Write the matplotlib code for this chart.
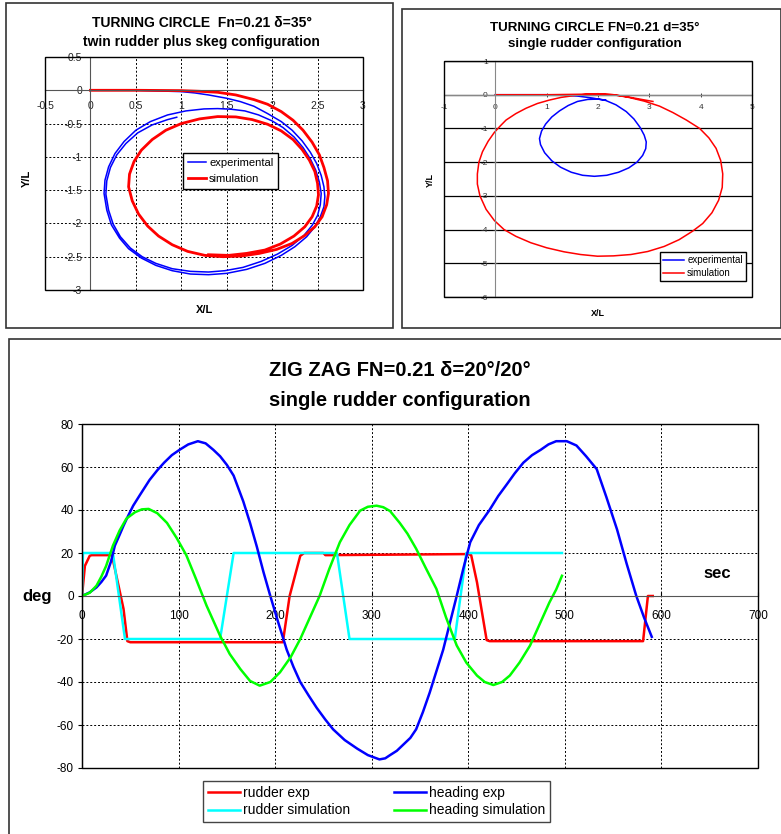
import numpy as np
import matplotlib
matplotlib.use('Agg')
import matplotlib.pyplot as plt
from matplotlib.patches import Rectangle
from matplotlib.ticker import FormatStrFormatter

plt.rcParams['font.family'] = ['Liberation Sans', 'DejaVu Sans']
plt.rcParams['axes.unicode_minus'] = False

W, H = 781, 834

# turning circle, twin rudder plus skeg  (X/L , Y/L)
# approach, first (outer) loop, second (inner) loop
tw_exp_x = [0, 0.5, 1.0, 1.15, 1.3, 1.5, 1.65, 1.8, 1.95, 2.1, 2.22, 2.33, 2.42, 2.49, 2.54,
            2.57, 2.58, 2.57, 2.53, 2.47, 2.38, 2.25, 2.1, 1.92, 1.72, 1.5, 1.3, 1.1, 0.9, 0.72,
            0.56, 0.42, 0.32, 0.23, 0.18, 0.15, 0.16, 0.2, 0.27, 0.37, 0.5, 0.66, 0.85, 1.05,
            1.25, 1.4,
            1.55, 1.7, 1.85, 2.0, 2.12, 2.24, 2.34, 2.42, 2.48, 2.52, 2.54, 2.53, 2.5, 2.44,
            2.35, 2.22, 2.06, 1.88, 1.68, 1.48, 1.3, 1.1, 0.9, 0.72, 0.57, 0.44, 0.33, 0.25,
            0.2, 0.17, 0.18, 0.22, 0.29, 0.39, 0.52, 0.68, 0.85, 0.95]
tw_exp_y = [0, 0, -0.02, -0.04, -0.07, -0.12, -0.17, -0.24, -0.35, -0.47, -0.6, -0.76, -0.93,
            -1.1, -1.28, -1.45, -1.6, -1.75, -1.9, -2.05, -2.2, -2.35, -2.48, -2.6, -2.69,
            -2.75, -2.77, -2.76, -2.71, -2.63, -2.52, -2.38, -2.22, -2.02, -1.8, -1.55, -1.35,
            -1.15, -0.95, -0.77, -0.6, -0.47, -0.37, -0.31, -0.28, -0.275,
            -0.285, -0.31, -0.37, -0.46, -0.56, -0.7, -0.86, -1.03, -1.2, -1.38, -1.55, -1.72,
            -1.88, -2.03, -2.18, -2.33, -2.46, -2.57, -2.66, -2.71, -2.73, -2.72, -2.68, -2.6,
            -2.5, -2.37, -2.2, -2.01, -1.8, -1.56, -1.36, -1.16, -0.97, -0.8, -0.64, -0.52,
            -0.44, -0.405]
tw_sim_x = [0, 0.5, 1.0, 1.2, 1.4, 1.6, 1.8, 1.95, 2.1, 2.23, 2.34, 2.44, 2.52, 2.57, 2.61,
            2.62, 2.6, 2.55, 2.47, 2.36, 2.22, 2.05, 1.86, 1.66, 1.46, 1.26, 1.07, 0.9, 0.75,
            0.63, 0.53, 0.46, 0.42, 0.43, 0.48, 0.56, 0.68, 0.83, 1.0, 1.2, 1.4,
            1.6, 1.78, 1.95, 2.1, 2.23, 2.33, 2.41, 2.47, 2.5, 2.51, 2.49, 2.44, 2.36, 2.24,
            2.09, 1.92, 1.72, 1.52, 1.3]
tw_sim_y = [0, 0, -0.005, -0.015, -0.03, -0.07, -0.14, -0.21, -0.32, -0.45, -0.6, -0.78,
            -0.97, -1.16, -1.36, -1.55, -1.72, -1.9, -2.05, -2.18, -2.3, -2.39, -2.45, -2.49,
            -2.5, -2.48, -2.42, -2.32, -2.19, -2.04, -1.86, -1.66, -1.45, -1.26, -1.07, -0.9,
            -0.74, -0.6, -0.5, -0.43, -0.395,
            -0.4, -0.44, -0.51, -0.61, -0.74, -0.89, -1.05, -1.22, -1.4, -1.57, -1.74, -1.9,
            -2.05, -2.19, -2.31, -2.4, -2.45, -2.48, -2.47]

# turning circle, single rudder
sg_exp_x = [0, 0.5, 1.0, 1.3, 1.6, 1.9, 2.15, 2.35, 2.55, 2.7, 2.82, 2.9, 2.94, 2.93, 2.87,
            2.76, 2.6, 2.4, 2.17, 1.93, 1.7, 1.48, 1.27, 1.1, 0.96, 0.88, 0.86, 0.9, 0.98, 1.1,
            1.25, 1.42, 1.6, 1.8, 2.0, 2.15]
sg_exp_y = [0, 0, 0, -0.01, -0.04, -0.1, -0.17, -0.3, -0.5, -0.72, -0.97, -1.2, -1.4, -1.6,
            -1.8, -2.0, -2.17, -2.3, -2.39, -2.42, -2.39, -2.3, -2.15, -1.96, -1.72, -1.48,
            -1.3, -1.08, -0.87, -0.66, -0.48, -0.32, -0.2, -0.14, -0.13, -0.16]
sg_sim_x = [0, 1.0, 1.5, 2.0, 2.3, 2.6, 2.9, 3.2, 3.46, 3.72, 3.98, 4.16, 4.30, 4.39, 4.43,
            4.42, 4.35, 4.22, 4.04, 3.84, 3.58, 3.29, 2.97, 2.64, 2.3, 1.99, 1.66, 1.34, 1.0,
            0.69, 0.4, 0.17, -0.02, -0.18, -0.3, -0.35, -0.35, -0.32, -0.25, -0.14, -0.02, 0.1,
            0.21, 0.4, 0.6, 0.82, 1.05, 1.28, 1.51, 1.75, 2.0, 2.3, 2.6, 2.85, 3.07]
sg_sim_y = [0, 0, 0.01, 0.02, 0.0, -0.08, -0.19, -0.34, -0.53, -0.75, -1.0, -1.28, -1.59,
            -1.95, -2.35, -2.75, -3.13, -3.5, -3.82, -4.05, -4.3, -4.5, -4.65, -4.74, -4.78,
            -4.79, -4.74, -4.66, -4.54, -4.39, -4.2, -4.0, -3.73, -3.4, -3.0, -2.65, -2.35,
            -2.0, -1.69, -1.38, -1.12, -0.92, -0.75, -0.56, -0.4, -0.26, -0.16, -0.08, -0.03,
            0.01, 0.03, 0.0, -0.07, -0.14, -0.2]

# zig zag 20/20  (sec , deg)
t_rud_exp = [0, 3, 8, 10, 31, 43, 47, 50, 208, 215, 226, 230, 250, 252, 400, 403, 409, 419,
             422, 581, 586, 591]
rud_exp = [0, 14, 18.7, 19, 19, -6, -21, -21.5, -21.5, 0, 18.7, 20, 20, 19, 19.5, 19, 6.4,
           -20.5, -21, -21, 0, 0]
t_rud_sim = [0, 1, 32, 44.5, 143, 157, 264, 277, 386, 398, 497]
rud_sim = [0, 20, 20, -20, -20, 20, 20, -20, -20, 20, 20]
t_head_exp = [0, 8, 15, 20, 25, 30, 34, 39, 43, 48, 53, 60, 70, 78, 85, 93, 101, 110, 120, 128,
              136, 143, 150, 157, 162, 167, 174, 181, 188, 195, 203, 212, 219, 226, 235, 243,
              252, 260, 272, 285, 296, 308, 314, 319, 326, 333, 340, 346, 353, 360, 367, 374,
              381, 388, 395, 402, 411, 422, 431, 440, 448, 457, 466, 475, 483, 491, 502, 512,
              522, 533, 543, 554, 564, 574, 582, 590]
head_exp = [0, 1.7, 4, 6.5, 9.5, 16, 23.4, 28.5, 32.7, 37.5, 42, 47, 54, 58.5, 62, 65.5, 68,
            70.5, 72, 71, 68, 65, 61, 56, 50, 44, 34, 23, 11, 0, -12, -25, -33, -40, -46.5, -52,
            -57.5, -62, -67, -71, -74, -76, -75.5, -74, -72, -69, -66, -62, -54, -45, -35, -25,
            -12.5, 0, 13, 25, 33, 40, 46.5, 52, 57, 62, 65.5, 68, 70.5, 72, 72, 70, 65, 59, 46,
            31, 15, 0, -10, -19]
t_head_sim = [0, 8, 15, 20, 25, 32, 39, 46, 55, 62, 69, 78, 88, 98, 108, 118, 129, 136, 143,
              153, 164, 174, 184, 195, 205, 216, 226, 236, 246, 256, 267, 277, 288, 296, 305,
              312, 319, 329, 337, 346, 356, 367, 377, 388, 398, 409, 417, 426, 435, 443, 453,
              464, 474, 484, 491, 497]
head_sim = [0, 1.5, 4.8, 9, 14, 23.4, 30.5, 36, 39, 40.3, 40.5, 38.5, 34, 27, 19, 8, -4.5,
            -11.5, -18.5, -27, -34, -39.5, -41.7, -40, -35.5, -28.5, -20, -10, 0, 12.5, 25, 33,
            39.7, 41.5, 42, 41.3, 39.5, 34, 29, 22, 13, 3.3, -10, -23, -31, -37, -40, -41.4,
            -40, -37, -31, -23, -13, -3, 3, 9.4]

BLUE = '#0000ff'
RED = '#ff0000'
CYAN = '#00ffff'
GREEN = '#00ff00'


def px_axes(fig, x0, y0, x1, y1):
    # axes placed by pixel box of the reference
    return fig.add_axes([x0 / W, 1 - y1 / H, (x1 - x0) / W, (y1 - y0) / H])


def ftext(fig, x, y, s, **kw):
    fig.text(x / W, 1 - y / H, s, ha='center', va='center', **kw)


def cross_axes(ax, color='#555555'):
    # excel style: axes cross at 0, plot area gets its own frame
    ax.spines['bottom'].set_position(('data', 0))
    ax.spines['bottom'].set_color(color)
    ax.spines['top'].set_visible(False)
    ax.spines['right'].set_visible(False)
    ax.add_patch(Rectangle((0, 0), 1, 1, transform=ax.transAxes, fill=False,
                           ec='black', lw=1.0, clip_on=False, zorder=5))


fig = plt.figure(figsize=(W / 100, H / 100), dpi=100)

# panel frames
for (x0, y0, x1, y1) in [(6, 3, 393, 328), (402, 9, 781, 328), (9, 339, 790, 840)]:
    fig.patches.append(Rectangle((x0 / W, 1 - y1 / H), (x1 - x0) / W, (y1 - y0) / H,
                                 transform=fig.transFigure, fill=False, ec='#333333', lw=1.2))

# ---- top left
ax1 = px_axes(fig, 45, 57, 363, 290)
ax1.plot(tw_exp_x, tw_exp_y, color=BLUE, lw=1.1, label='experimental')
ax1.plot(tw_sim_x, tw_sim_y, color=RED, lw=2.0, label='simulation')
ax1.set_xlim(-0.5, 3)
ax1.set_ylim(-3, 0.5)
ax1.set_xticks(np.arange(-0.5, 3.01, 0.5))
ax1.set_yticks(np.arange(-3, 0.51, 0.5))
ax1.xaxis.set_major_formatter(FormatStrFormatter('%g'))
ax1.yaxis.set_major_formatter(FormatStrFormatter('%g'))
ax1.set_axisbelow(True)
ax1.grid(True, ls=(0, (2, 2)), color='black', lw=0.7)
cross_axes(ax1)
ax1.spines['left'].set_position(('data', 0))
ax1.spines['left'].set_color('#555555')
ax1.tick_params(length=0, labelsize=7.5, colors='#222222')
ax1.tick_params(axis='x', pad=8)
ax1.tick_params(axis='y', pad=6)
ax1.legend(loc='upper left', bbox_to_anchor=(0.434, 0.588), fontsize=8, frameon=True,
           fancybox=False, edgecolor='black', framealpha=1, handlelength=1.6,
           handletextpad=0.3, borderpad=0.45, labelspacing=0.5, borderaxespad=0)
ftext(fig, 202, 23, 'TURNING CIRCLE  Fn=0.21 δ=35°', fontsize=10, fontweight='bold')
ftext(fig, 201, 42, 'twin rudder plus skeg configuration', fontsize=10, fontweight='bold')
ftext(fig, 205, 310, 'X/L', fontsize=8, fontweight='bold')
ftext(fig, 27, 178, 'Y/L', fontsize=8, fontweight='bold', rotation=90)

# ---- top right
ax2 = px_axes(fig, 444, 61, 752, 297)
ax2.plot(sg_exp_x, sg_exp_y, color=BLUE, lw=1.1, label='experimental')
ax2.plot(sg_sim_x, sg_sim_y, color=RED, lw=1.1, label='simulation')
ax2.set_xlim(-1, 5)
ax2.set_ylim(-6, 1)
ax2.set_xticks(np.arange(-1, 6, 1))
ax2.set_yticks(np.arange(-6, 2, 1))
ax2.set_axisbelow(True)
ax2.grid(True, axis='y', color='black', lw=0.9)
cross_axes(ax2, color='#888888')
ax2.spines['left'].set_position(('data', 0))
ax2.spines['left'].set_color('#888888')
ax2.tick_params(length=3, direction='inout', width=0.6, labelsize=6, colors='#333333')
ax2.tick_params(axis='x', pad=5)
ax2.tick_params(axis='y', pad=4)
ax2.legend(loc='upper left', bbox_to_anchor=(0.701, 0.19), fontsize=7, frameon=True,
           fancybox=False, edgecolor='black', framealpha=1, handlelength=2.2,
           handletextpad=0.3, borderpad=0.3, labelspacing=0.35, borderaxespad=0)
ftext(fig, 595, 28, 'TURNING CIRCLE FN=0.21 d=35°', fontsize=9.6, fontweight='bold')
ftext(fig, 595, 44, 'single rudder configuration', fontsize=9.6, fontweight='bold')
ftext(fig, 598, 313, 'X/L', fontsize=6.5, fontweight='bold')
ftext(fig, 430, 180, 'Y/L', fontsize=6.5, fontweight='bold', rotation=90)

# ---- zig zag
ax3 = px_axes(fig, 82, 424, 758, 768)
ax3.plot(t_rud_exp, rud_exp, color=RED, lw=1.8, label='rudder exp')
ax3.plot(t_rud_sim, rud_sim, color=CYAN, lw=1.8, label='rudder simulation')
ax3.plot(t_head_exp, head_exp, color=BLUE, lw=1.8, label='heading exp')
ax3.plot(t_head_sim, head_sim, color=GREEN, lw=1.8, label='heading simulation')
ax3.set_xlim(0, 700)
ax3.set_ylim(-80, 80)
ax3.set_xticks(np.arange(0, 701, 100))
ax3.set_yticks(np.arange(-80, 81, 20))
ax3.set_axisbelow(True)
ax3.grid(True, ls=(0, (2, 2)), color='black', lw=0.7)
cross_axes(ax3)
ax3.tick_params(labelsize=8.5, colors='black')
ax3.tick_params(axis='x', direction='in', length=3, pad=10)
ax3.tick_params(axis='y', direction='out', length=3, pad=3)
ax3.legend(loc='upper left', bbox_to_anchor=(0.179, -0.038), ncol=2, fontsize=10,
           frameon=True, fancybox=False, edgecolor='#444444', framealpha=1,
           handlelength=2.3, handletextpad=0.2, columnspacing=3.2, borderpad=0.35,
           labelspacing=0.25, borderaxespad=0)
ftext(fig, 400, 370, 'ZIG ZAG FN=0.21 δ=20°/20°', fontsize=14.5, fontweight='bold')
ftext(fig, 400, 400, 'single rudder configuration', fontsize=14.5, fontweight='bold')
ftext(fig, 37, 597, 'deg', fontsize=12, fontweight='bold')
ftext(fig, 717, 573, 'sec', fontsize=12, fontweight='bold')

fig.savefig('out.png', dpi=100)
